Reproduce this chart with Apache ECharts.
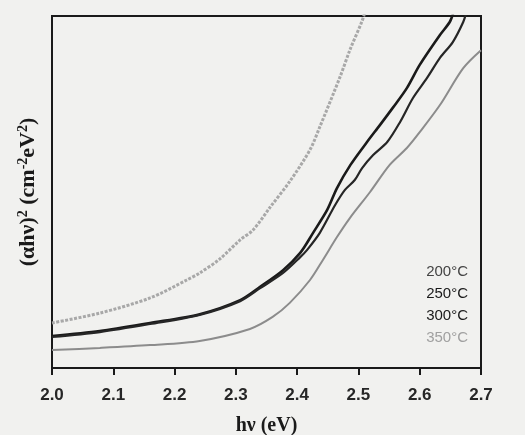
<!DOCTYPE html>
<html>
<head>
<meta charset="utf-8">
<script src="https://cdn.jsdelivr.net/npm/echarts@6/dist/echarts.min.js"></script>
<style>
html,body{margin:0;padding:0;background:#f1f1ef;}
#chart{width:525px;height:435px;}
</style>
</head>
<body>
<div id="chart"></div>
<script>
// Tick labels of the energy axis (eV)
const xTicks = ['2.0','2.1','2.2','2.3','2.4','2.5','2.6','2.7'];
const legendLabels = ['200°C','250°C','300°C','350°C'];

// Curves: [hν (eV), (αhν)² in arbitrary units 0-100]
const curveA = [[2.0,12.8],[2.078,15.6],[2.16,19.9],[2.22,25.0],[2.241,27.0],[2.274,31.0],[2.307,36.4],[2.328,39.2],[2.356,45.7],[2.388,53.0],[2.421,62.0],[2.437,68.5],[2.47,82.7],[2.486,90.3],[2.506,98.6],[2.512,102]];
const curveB = [[2.0,9.1],[2.078,10.5],[2.16,12.8],[2.241,15.3],[2.307,19.3],[2.339,23.0],[2.377,27.8],[2.405,32.7],[2.426,38.4],[2.449,44.9],[2.465,51.1],[2.487,57.7],[2.514,64.2],[2.535,69.0],[2.556,73.9],[2.579,79.5],[2.6,86.1],[2.633,94.6],[2.649,98.3],[2.655,101]];
const curveC = [[2.0,8.8],[2.078,10.2],[2.16,12.5],[2.241,15.1],[2.307,19.0],[2.339,22.6],[2.377,27.0],[2.405,31.5],[2.416,33.5],[2.437,38.4],[2.462,46.3],[2.478,50.6],[2.494,53.4],[2.506,56.8],[2.524,60.5],[2.547,64.2],[2.568,69.9],[2.589,76.7],[2.612,82.4],[2.633,88.1],[2.654,92.6],[2.671,98.3],[2.676,101]];
const curveD = [[2.0,5.1],[2.078,5.7],[2.16,6.5],[2.241,7.7],[2.323,11.1],[2.36,14.5],[2.388,18.5],[2.421,25.0],[2.442,30.7],[2.465,37.2],[2.486,42.6],[2.519,50.0],[2.551,57.7],[2.579,62.5],[2.6,67.0],[2.633,74.7],[2.671,85.2],[2.7,90.3]];

const serif = 'Liberation Serif, Times New Roman, serif';
const chart = echarts.init(document.getElementById('chart'));
chart.setOption({
  backgroundColor: '#f1f1ef',
  animation: false,
  grid: {left: 52, right: 44, top: 16, bottom: 67, show: true, borderColor: '#1a1a1a', borderWidth: 2, backgroundColor: 'transparent',
    containLabel: false, outerBoundsMode: 'none'},
  legend: {
    orient: 'vertical', right: 52, top: 259, itemGap: 7, icon: 'none', itemWidth: 0, itemHeight: 14,
    selectedMode: false,
    textStyle: {fontFamily: 'Liberation Sans, Arial, sans-serif', fontSize: 15, padding: 0},
    data: [
      {name: legendLabels[0], textStyle: {color: '#444444'}},
      {name: legendLabels[1], textStyle: {color: '#1a1a1a'}},
      {name: legendLabels[2], textStyle: {color: '#1a1a1a'}},
      {name: legendLabels[3], textStyle: {color: '#a0a0a0'}}
    ]
  },
  xAxis: {
    type: 'value', min: 2.0, max: 2.7, interval: 0.1,
    name: 'hν (eV)', nameLocation: 'middle', nameGap: 48,
    nameTextStyle: {fontFamily: serif, fontWeight: 'bold', fontSize: 20, color: '#1a1a1a'},
    axisLine: {show: true, lineStyle: {color: '#1a1a1a', width: 2}},
    axisTick: {show: true, inside: false, length: 7, lineStyle: {color: '#1a1a1a', width: 2}},
    splitLine: {show: false},
    axisLabel: {margin: 19, fontFamily: 'Liberation Sans, Arial, sans-serif', fontWeight: 'bold', fontSize: 17, color: '#262626',
      formatter: function (v) { const i = Math.round((v - 2.0) * 10); return xTicks[i] !== undefined ? xTicks[i] : ''; }}
  },
  yAxis: {
    type: 'value', min: 0, max: 100,
    name: '{b|(αhν)}{s|2}{b| (cm}{s|-2}{b|eV}{s|2}{b|)}', nameLocation: 'middle', nameGap: 12, nameRotate: 90,
    nameTextStyle: {
      fontFamily: serif, fontWeight: 'bold', fontSize: 22, color: '#1a1a1a',
      rich: {
        b: {fontFamily: serif, fontWeight: 'bold', fontSize: 22, color: '#1a1a1a', lineHeight: 24},
        s: {fontFamily: serif, fontWeight: 'bold', fontSize: 14, color: '#1a1a1a', verticalAlign: 'top', lineHeight: 14}
      }
    },
    axisLine: {show: true, lineStyle: {color: '#1a1a1a', width: 2}},
    axisTick: {show: false}, axisLabel: {show: false}, splitLine: {show: false}
  },
  series: [
    {name: legendLabels[3], type: 'line', data: curveA, showSymbol: false, smooth: 0.3,
      lineStyle: {color: '#a8a8a8', width: 3, type: [3, 1.5]}},
    {name: legendLabels[1], type: 'line', data: curveB, showSymbol: false, smooth: 0.3,
      lineStyle: {color: '#1a1a1a', width: 2.6}},
    {name: legendLabels[2], type: 'line', data: curveC, showSymbol: false, smooth: 0.3,
      lineStyle: {color: '#262626', width: 2.2}},
    {name: legendLabels[0], type: 'line', data: curveD, showSymbol: false, smooth: 0.3,
      lineStyle: {color: '#8c8c8c', width: 2}}
  ]
});
</script>
</body>
</html>
